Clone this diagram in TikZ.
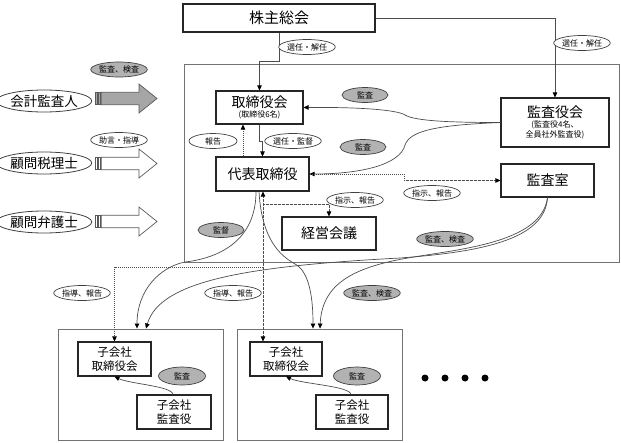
\documentclass[tikz,border=0pt]{standalone}
\usepackage{fontspec}
\setmainfont{Noto Sans CJK JP}
\usetikzlibrary{arrows.meta,shapes.geometric,calc}
\newcommand\myblockarrow[2]{%
  \filldraw[draw=black!65,line width=0.7pt,fill=#2] (95.7,{#1-6.2}) rectangle (97.7,{#1+6.2});
  \filldraw[draw=black!65,line width=0.7pt,fill=#2] (98.6,{#1-6.2}) rectangle (100.4,{#1+6.2});
  \filldraw[draw=black!65,line width=0.7pt,fill=#2] (101.3,{#1-6.2}) -- (139,{#1-6.2}) -- (139,{#1-14.5}) -- (157,#1) -- (139,{#1+14.5}) -- (139,{#1+6.2}) -- (101.3,{#1+6.2}) -- cycle;
}
\begin{document}
\begin{tikzpicture}[x=1pt,y=-1pt,
  box/.style={draw=black!85,line width=1.1pt,fill=white,inner sep=0pt,align=center},
  frame/.style={draw=black!55,line width=0.9pt,inner sep=0pt},
  lab/.style={ellipse,draw=black!75,line width=0.7pt,fill=white,inner sep=0pt,minimum width=46pt,minimum height=15pt,font=\fontsize{8}{9}\selectfont},
  glab/.style={lab,fill=black!30},
  conn/.style={draw=black!70,line width=0.7pt},
  tip/.style={-{Triangle[length=5pt,width=4.5pt,color=black]}},
  dd/.style={conn,dash pattern=on 1.5pt off 1pt on 0.5pt off 1pt},
  party/.style={ellipse,draw=black!75,line width=0.8pt,inner sep=0pt,minimum width=78pt,minimum height=22pt,font=\fontsize{13.5}{14}\selectfont},
  big/.style={font=\fontsize{14}{15}\selectfont},
  sub/.style={box,font=\fontsize{11.5}{13.5}\selectfont},
  dot/.style={circle,fill=black,inner sep=0pt,minimum size=7pt}
]
\useasboundingbox (0,0) rectangle (621,442);

% frames
\node[frame,minimum width=435pt,minimum height=198pt] (co) at (401.5,163) {};
\node[frame,minimum width=165pt,minimum height=111pt] (c1) at (140.5,384.5) {};
\node[frame,minimum width=165pt,minimum height=111pt] (c2) at (319.5,384.5) {};

% boxes
\node[box,minimum width=192pt,minimum height=28pt,font=\fontsize{15}{16}\selectfont] (gm) at (279,18) {株主総会};
\node[box,minimum width=87pt,minimum height=33pt,font=\fontsize{8}{10}\selectfont] (tb) at (259.5,107.5) {{\fontsize{14}{16}\selectfont 取締役会}\\(取締役6名)};
\node[box,big,minimum width=93pt,minimum height=34pt] (rep) at (262.5,174) {代表取締役};
\node[box,minimum width=108pt,minimum height=49pt,font=\fontsize{8}{10}\selectfont] (kb) at (555,122.5) {{\fontsize{14}{16}\selectfont 監査役会}\\(監査役4名、\\全員社外監査役)};
\node[box,big,minimum width=93pt,minimum height=33pt] (ks) at (547.5,180.5) {監査室};
\node[box,big,minimum width=94pt,minimum height=33pt] (km) at (329,233.5) {経営会議};

\node[sub,minimum width=73pt,minimum height=34pt] (s1t) at (114.5,359) {子会社\\取締役会};
\node[sub,minimum width=74pt,minimum height=34pt] (s1a) at (174,412) {子会社\\監査役};
\node[sub,minimum width=72pt,minimum height=34pt] (s2t) at (286,359) {子会社\\取締役会};
\node[sub,minimum width=72pt,minimum height=34pt] (s2a) at (352,412) {子会社\\監査役};

% outside parties
\node[party] (p1) at (44,101) {会計監査人};
\node[party] (p2) at (44,163) {顧問税理士};
\node[party] (p3) at (44,222) {顧問弁護士};
\myblockarrow{98.5}{black!35}
\myblockarrow{163.5}{white}
\myblockarrow{221.5}{white}

% connectors
\draw[conn,tip] (gm.south) -- ++(0,29) -| (tb.north);
\draw[conn,tip] (gm.east) -| (kb.north);
\draw[conn,tip] (tb.south) -- ++(0,17) -| (rep.north);
\draw[dd,tip] ([xshift=-19.5pt]rep.north) -- ([xshift=-16.5pt]tb.south);
\draw[conn,tip] (kb.west) .. controls (450,122.5) and (415,121) .. (405,115) .. controls (398,110) and (360,107) .. (tb.east);
\draw[conn,tip] (kb.west) .. controls (440,125) and (410,130) .. (405,145) .. controls (400,165) and (360,174) .. (rep.east);
\coordinate (bend) at (404,174);
\draw[dd,tip] (rep.east) -- (bend) |- (ks.west);

\coordinate (j1) at (263,267);
\coordinate (j2) at (263,204);
\draw[dd,{Triangle[length=5pt,width=4.5pt,color=black]}-{Triangle[length=5pt,width=4.5pt,color=black]}] ([xshift=0.5pt]rep.south) -- ([xshift=0.5pt]rep.south |- s2t.north);
\draw[dd,tip] (j1) -| (s1t.north);
\draw[dd,tip] (j2) -| (km.north);

\draw[conn,tip] ([xshift=-6.5pt]rep.south) .. controls (256,240) and (220,258) .. (185,262) .. controls (160,267) and (137,290) .. ([xshift=-3.5pt]c1.north);
\draw[conn,tip] ([xshift=-3.5pt]rep.south) .. controls (262,245) and (285,258) .. (295,264) .. controls (310,272) and (313,300) .. ([xshift=-6.5pt]c2.north);
\draw[conn,tip] (ks.south) .. controls (545,240) and (480,252) .. (400,258) .. controls (250,266) and (160,280) .. ([xshift=5.5pt]c1.north);
\draw[conn,tip] (ks.south) .. controls (542,240) and (470,248) .. (420,256) .. controls (360,265) and (322,280) .. ([xshift=0.5pt]c2.north);

\draw[conn,tip] ([xshift=-1pt]s1a.north) .. controls (172,386) and (130,384) .. (s1t.south);
\draw[conn,tip] ([xshift=-1pt]s2a.north) .. controls (350,386) and (302,384) .. (s2t.south);

% labels
\node[glab] (l1) at (119,69.5) {監査、検査};
\node[lab] (l2) at (119,140) {助言・指導};
\node[lab] (l3) at (307,47) {選任・解任};
\node[lab] (l4) at (582,43) {選任・解任};
\node[glab] (l5) at (365,95) {監査};
\node[glab] (l6) at (363,147) {監査};
\node[lab,minimum width=48pt] (l7) at (213,141) {報告};
\node[lab] (l8) at (293,141) {選任・監督};
\node[lab] (l9) at (355,200) {指示、報告};
\node[lab] (l10) at (432,193) {指示、報告};
\node[glab] (l11) at (221,230) {監督};
\node[glab] (l12) at (445,239) {監査、検査};
\node[glab] (l13) at (372,293) {監査、検査};
\node[lab] (l14) at (82,293) {指導、報告};
\node[lab] (l15) at (233,293) {指導、報告};
\node[glab,minimum width=47pt,minimum height=18pt] (l16) at (182,376) {監査};
\node[glab,minimum width=47pt,minimum height=18pt] (l17) at (357,376) {監査};

% dots
\node[dot] (d1) at (425,378) {};
\node[dot] (d2) at (445,378) {};
\node[dot] (d3) at (465,378) {};
\node[dot] (d4) at (485,378) {};
\end{tikzpicture}
\end{document}
